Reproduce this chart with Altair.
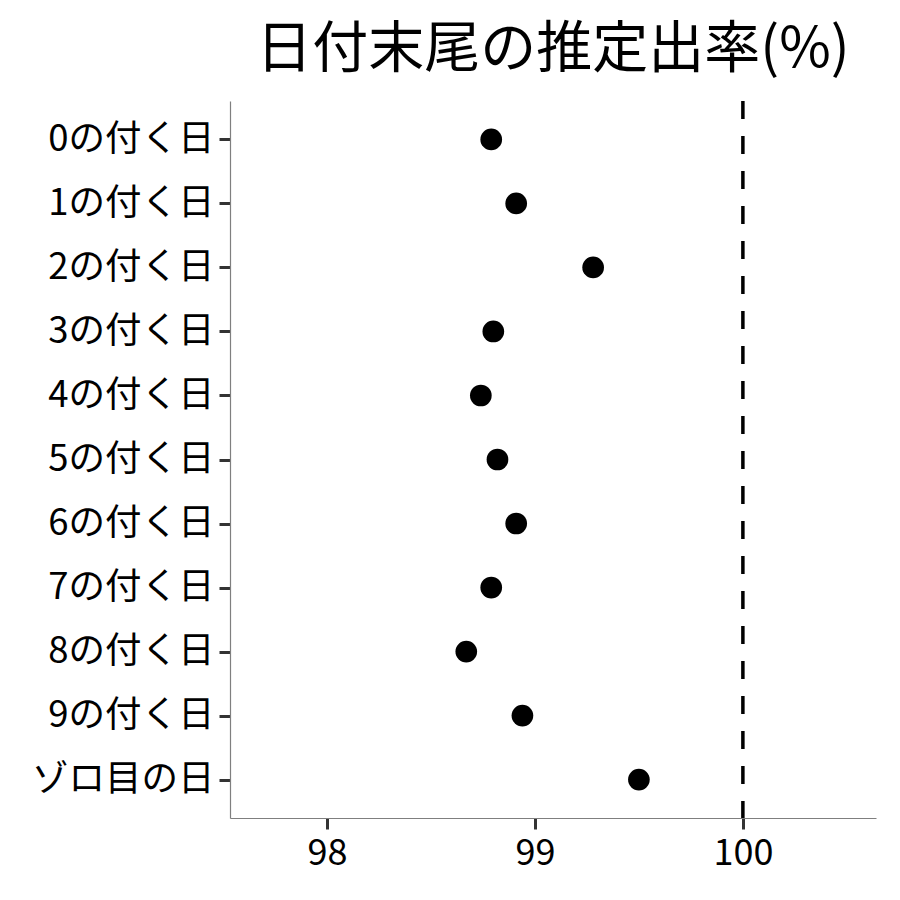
import altair as alt
import pandas as pd

categories = ["0の付く日", "1の付く日", "2の付く日", "3の付く日", "4の付く日",
              "5の付く日", "6の付く日", "7の付く日", "8の付く日", "9の付く日", "ゾロ目の日"]
rates = [98.79, 98.91, 99.28, 98.80, 98.74, 98.82, 98.91, 98.79, 98.67, 98.94, 99.50]
x_ticks = [98, 99, 100]
ref_value = [100]

df = pd.DataFrame({"cat": categories, "rate": rates})
ref = pd.DataFrame({"v": ref_value})

FONT = "Noto Sans CJK JP"

xscale = alt.Scale(domain=[97.534, 100.64], nice=False, zero=False)

points = alt.Chart(df).mark_circle(size=470, color="black", opacity=1).encode(
    x=alt.X("rate:Q", scale=xscale,
            axis=alt.Axis(values=x_ticks, title=None, grid=False, format="d",
                          domainColor="#7f7f7f", domainWidth=1.2,
                          tickColor="#333333", tickWidth=3, tickSize=11,
                          labelFontSize=36, labelColor="black", labelFont=FONT,
                          labelPadding=7)),
    y=alt.Y("cat:N", sort=categories,
            scale=alt.Scale(type="point", padding=0.6),
            axis=alt.Axis(title=None, grid=False,
                          domainColor="#7f7f7f", domainWidth=1.2,
                          tickColor="#333333", tickWidth=3, tickSize=11,
                          labelFontSize=36.5, labelColor="black", labelFont=FONT,
                          labelPadding=5, labelLimit=0)),
)

rule = alt.Chart(ref).mark_rule(color="black", strokeWidth=3.5, strokeDash=[18, 17]).encode(
    x=alt.X("v:Q", scale=xscale)
)

chart = alt.layer(rule, points).properties(
    width=646, height=717,
    title=alt.TitleParams("日付末尾の推定出率(%)", font=FONT, fontSize=56,
                          fontWeight="normal", color="black", anchor="middle",
                          offset=20),
    autosize=alt.AutoSizeParams(type="none"),
    padding={"left": 222, "top": 93, "right": 16, "bottom": 74},
).configure(background="white").configure_view(stroke=None, strokeWidth=0)

chart.save("out.html", embed_options={"renderer": "svg", "actions": False})
